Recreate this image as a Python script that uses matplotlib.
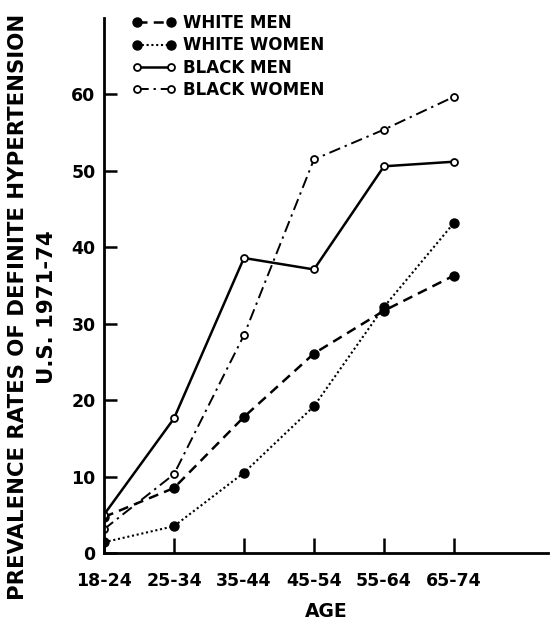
import matplotlib
matplotlib.use("Agg")
import matplotlib.pyplot as plt

ages = ['18-24', '25-34', '35-44', '45-54', '55-64', '65-74']
white_men = [4.7, 8.5, 17.8, 26.1, 31.7, 36.3]
white_women = [1.4, 3.5, 10.5, 19.2, 32.2, 43.2]
black_men = [5.0, 17.6, 38.6, 37.1, 50.6, 51.2]
black_women = [3.1, 10.3, 28.5, 51.5, 55.4, 59.7]
yticks = [0, 10, 20, 30, 40, 50, 60]

plt.rcParams['font.family'] = 'DejaVu Sans'
fig = plt.figure(figsize=(5.5, 6.22), dpi=100)
ax = fig.add_axes([0.189, 0.111, 0.807, 0.86])

x = list(range(len(ages)))
ax.plot(x, white_men, color='black', lw=1.8, dashes=(4, 2.5),
        marker='o', ms=6.5, mfc='black', label='WHITE MEN')
ax.plot(x, white_women, color='black', lw=1.5, linestyle=(0, (1, 1.3)),
        marker='o', ms=6.5, mfc='black', label='WHITE WOMEN')
ax.plot(x, black_men, color='black', lw=1.8, linestyle='-',
        marker='o', ms=5, mfc='white', mew=1.3, label='BLACK MEN')
ax.plot(x, black_women, color='black', lw=1.4, linestyle=(0, (6, 2.5, 1.2, 2.5)),
        marker='o', ms=5, mfc='white', mew=1.3, label='BLACK WOMEN')

ax.set_xlim(0, 6.34)
ax.set_ylim(0, 70)
ax.set_xticks(x)
ax.set_xticklabels(ages)
ax.set_yticks(yticks)
ax.tick_params(direction='in', width=1.8, labelsize=12.5)
ax.tick_params(axis='x', pad=14, length=11)
ax.tick_params(axis='y', pad=6, length=9)
for lab in ax.get_xticklabels() + ax.get_yticklabels():
    lab.set_fontweight('bold')

for s in ['top', 'right']:
    ax.spines[s].set_visible(False)
for s in ['left', 'bottom']:
    ax.spines[s].set_linewidth(2)

ax.set_xlabel('AGE', fontsize=13.5, fontweight='bold', labelpad=8)
ax.set_ylabel('PREVALENCE RATES OF DEFINITE HYPERTENSION\nU.S. 1971-74',
              fontsize=15.3, fontweight='bold', linespacing=1.55)
ax.yaxis.set_label_coords(-0.106, 0.46)

leg = ax.legend(loc='upper left', bbox_to_anchor=(0.03, 1.035), frameon=False,
                numpoints=2, handlelength=2.6, handletextpad=0.45,
                labelspacing=0.25, prop={'size': 12, 'weight': 'bold'})

fig.savefig('out.png', dpi=100)
